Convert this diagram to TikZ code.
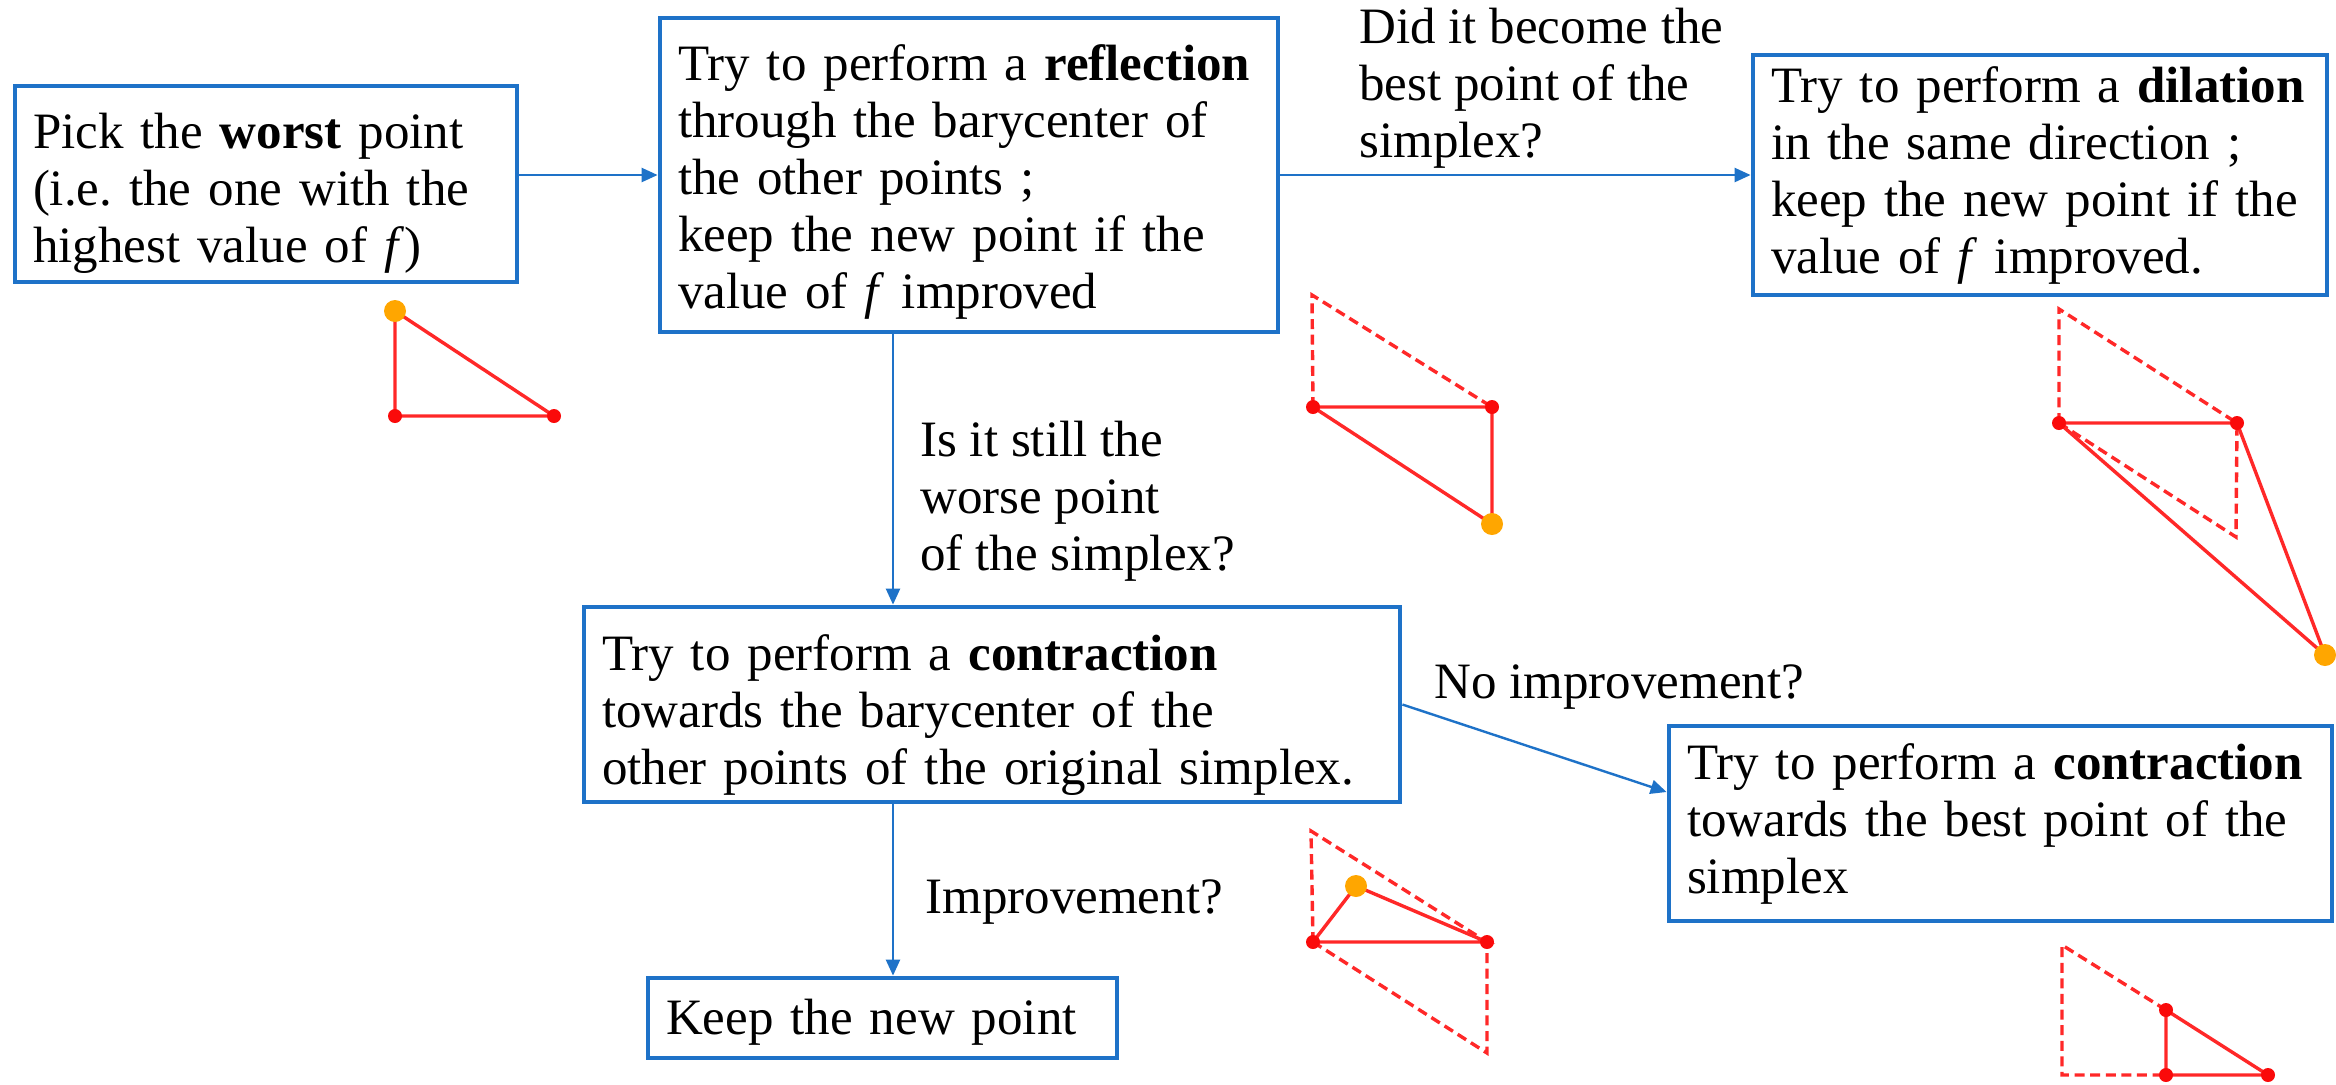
\documentclass[tikz,border=0pt]{standalone}
\usepackage{fontspec}
\setmainfont{Liberation Serif}
\usetikzlibrary{arrows.meta}
\definecolor{fblue}{RGB}{30,114,200}
\definecolor{tred}{RGB}{255,40,40}
\definecolor{dred}{RGB}{250,10,10}
\definecolor{torange}{RGB}{255,166,0}
\newcommand\mainfs{\fontsize{25.5pt}{28.5pt}\selectfont\frenchspacing\hyphenpenalty=10000\exhyphenpenalty=10000}
\begin{document}
\begin{tikzpicture}[x=0.5pt,y=-0.5pt,
  box/.style={draw=fblue, line width=2.4pt, inner xsep=8pt, inner ysep=0pt, align=left, font=\mainfs},
  tshift/.style={execute at begin node={\rule{0pt}{#1}}},
  lbl/.style={inner sep=0pt, align=left, font=\mainfs, anchor=north west},
  conn/.style={draw=fblue, line width=1.2pt, -{Triangle[length=8pt,width=7pt]}},
  sedge/.style={draw=tred, line width=1.7pt},
  dedge/.style={draw=tred, line width=1.7pt, dash pattern=on 5pt off 2.8pt},
  rdot/.style={fill=dred, draw=none},
  odot/.style={fill=torange, draw=none}]
\useasboundingbox (0,0) rectangle (2336,1084);
\fill[white] (0,0) rectangle (2336,1084);

% boxes
\node[box, tshift=26.5pt, minimum width=251pt, minimum height=98pt, text width=233pt] (b1) at (266,184)
  {Pick the \textbf{worst} point\\(i.e. the one with the\\highest value of \textit{f})};
\node[box, tshift=25pt, minimum width=309pt, minimum height=157pt, text width=291pt] (b2) at (969,175)
  {Try to perform a \textbf{reflection}\\through the barycenter of\\the other points ;\\keep the new point if the\\value of \textit{f} improved};
\node[box, minimum width=287pt, minimum height=120pt, text width=269pt] (b3) at (2040,175)
  {Try to perform a \textbf{dilation}\\in the same direction ;\\keep the new point if the\\value of \textit{f} improved.};
\node[box, tshift=28pt, minimum width=408pt, minimum height=97.5pt, text width=390pt] (b4) at (992,704.5)
  {Try to perform a \textbf{contraction}\\towards the barycenter of the\\other points of the original simplex.};
\node[box, minimum width=331.5pt, minimum height=97.5pt, text width=313.5pt] (b5) at (2000.5,823.5)
  {Try to perform a \textbf{contraction}\\towards the best point of the\\simplex};
\node[box, tshift=22pt, minimum width=234.5pt, minimum height=40pt, text width=216.5pt] (b6) at (882.5,1018)
  {Keep the new point};

% labels
\node[lbl] (l1) at (1359,8) {Did it become the\\best point of the\\simplex?};
\node[lbl] (l2) at (920,421) {Is it still the\\worse point\\of the simplex?};
\node[lbl] (l3) at (1434,664) {No improvement?};
\node[lbl] (l4) at (925,879) {Improvement?};

% connectors
\coordinate (vx) at (893,0);
\coordinate (h5) at (0,792);
\draw[conn] (b1.east |- b2.west) -- (b2.west);
\draw[conn] (b2.east) -- (b2.east -| b3.west);
\draw[conn] (b2.south -| vx) -- (b4.north -| vx);
\draw[conn] (b4.south -| vx) -- (b6.north -| vx);
\draw[conn] (b4.east) -- (b5.west |- h5);

% simplex 1
\coordinate (s1o) at (395,311);
\coordinate (s1a) at (395,416);
\coordinate (s1b) at (554,416);
\draw[sedge] (s1o) -- (s1a) -- (s1b) -- cycle;
\fill[rdot] (s1a) circle (3.5pt) (s1b) circle (3.5pt);
\fill[odot] (s1o) circle (5.5pt);

% simplex 2 (reflection)
\coordinate (s2p) at (1312,295);
\coordinate (s2l) at (1313,407);
\coordinate (s2r) at (1492,407);
\coordinate (s2o) at (1492,524);
\draw[dedge] (s2l) -- (s2p) -- (s2r);
\draw[sedge] (s2l) -- (s2r) -- (s2o) -- cycle;
\fill[rdot] (s2l) circle (3.5pt) (s2r) circle (3.5pt);
\fill[odot] (s2o) circle (5.5pt);

% simplex 3 (dilation)
\coordinate (s3p) at (2059,309);
\coordinate (s3l) at (2059,423);
\coordinate (s3r) at (2237,423);
\coordinate (s3d) at (2236,537);
\coordinate (s3o) at (2325,655);
\draw[dedge] (s3l) -- (s3p) -- (s3r);
\draw[dedge] (s3l) -- (s3d) -- (s3r);
\draw[sedge] (s3l) -- (s3r) -- (s3o) -- cycle;
\fill[rdot] (s3l) circle (3.5pt) (s3r) circle (3.5pt);
\fill[odot] (s3o) circle (5.5pt);

% simplex 4 (contraction)
\coordinate (s4p) at (1311,831);
\coordinate (s4l) at (1313,942);
\coordinate (s4r) at (1487,942);
\coordinate (s4d) at (1487,1053);
\coordinate (s4o) at (1356,886);
\draw[dedge] (s4l) -- (s4p) -- (s4r);
\draw[dedge] (s4l) -- (s4d) -- (s4r);
\draw[sedge] (s4l) -- (s4r) -- (s4o) -- cycle;
\fill[rdot] (s4l) circle (3.5pt) (s4r) circle (3.5pt);
\fill[odot] (s4o) circle (5.5pt);

% simplex 5 (contraction towards best)
\coordinate (s5p) at (2062,945);
\coordinate (s5bl) at (2062,1075);
\coordinate (s5m) at (2166,1010);
\coordinate (s5mb) at (2166,1075);
\coordinate (s5r) at (2268,1075);
\draw[dedge] (s5m) -- (s5p) -- (s5bl) -- (s5mb);
\draw[sedge] (s5m) -- (s5mb) -- (s5r) -- cycle;
\fill[rdot] (s5m) circle (3.5pt) (s5mb) circle (3.5pt) (s5r) circle (3.5pt);
\end{tikzpicture}
\end{document}
